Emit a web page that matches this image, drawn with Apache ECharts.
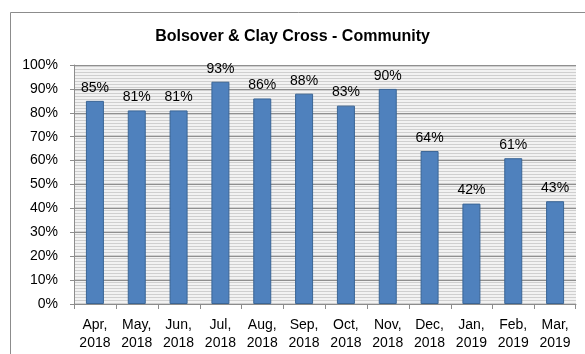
<!DOCTYPE html>
<html>
<head>
<meta charset="utf-8">
<script src="https://cdn.jsdelivr.net/npm/echarts@6/dist/echarts.min.js"></script>
<style>
  html, body { margin: 0; padding: 0; background: #ffffff; }
  #chart { width: 585px; height: 354px; }
</style>
</head>
<body>
<div id="chart"></div>
<script>
// Monthly community percentage, Apr 2018 – Mar 2019
const titleText = 'Bolsover & Clay Cross - Community';
const months = ['Apr,\n2018', 'May,\n2018', 'Jun,\n2018', 'Jul,\n2018', 'Aug,\n2018', 'Sep,\n2018',
                'Oct,\n2018', 'Nov,\n2018', 'Dec,\n2018', 'Jan,\n2019', 'Feb,\n2019', 'Mar,\n2019'];
const percentValues = [85, 81, 81, 93, 86, 88, 83, 90, 64, 42, 61, 43];
const yMin = 0, yMax = 100, yStep = 10;

const fontFamily = 'Liberation Sans, Arial, sans-serif';
const axisGray = '#8c8c8c';

// Narrow horizontal stripe fill for the plot area
function stripePattern() {
  const c = document.createElement('canvas');
  c.width = 4; c.height = 3;
  const ctx = c.getContext('2d');
  ctx.fillStyle = '#f2f2f2';
  ctx.fillRect(0, 0, 4, 3);
  ctx.fillStyle = '#cfcfcf';
  ctx.fillRect(0, 0, 4, 1);
  return { image: c, repeat: 'repeat' };
}

// Short tick marks below the category axis, at each category boundary
function renderBoundaryTicks(params, api) {
  const idx = api.value(0);
  const centre = api.coord([idx, 0]);
  const band = api.size([1, 0])[0];
  const x0 = Math.round(centre[0] - band / 2) + 0.5;
  const y = centre[1];
  const children = [{
    type: 'line',
    shape: { x1: x0, y1: y, x2: x0, y2: y + 5 },
    style: { stroke: axisGray, lineWidth: 1 }
  }];
  if (idx === months.length - 1) {
    const x1 = Math.round(centre[0] + band / 2) - 0.5;
    children.push({
      type: 'line',
      shape: { x1: x1, y1: y, x2: x1, y2: y + 5 },
      style: { stroke: axisGray, lineWidth: 1 }
    });
  }
  return { type: 'group', children };
}

const chart = echarts.init(document.getElementById('chart'), null, { renderer: 'canvas' });

chart.setOption({
  animation: false,
  backgroundColor: '#ffffff',
  graphic: [{
    type: 'rect',
    left: 8, top: 10,
    shape: { width: 600, height: 360 },
    style: { fill: 'none', stroke: axisGray, lineWidth: 1 },
    silent: true,
    z: -1
  }],
  title: {
    text: titleText,
    left: 'center',
    top: 24,
    textStyle: { fontFamily, fontSize: 16, fontWeight: 'bold', color: '#000000' }
  },
  grid: {
    left: 74, right: 9, top: 65, bottom: 50,
    show: true,
    backgroundColor: stripePattern(),
    borderWidth: 0
  },
  xAxis: {
    type: 'category',
    data: months,
    axisLine: { show: true, lineStyle: { color: axisGray, width: 1 } },
    axisTick: { show: false },
    axisLabel: {
      interval: 0, margin: 12, color: '#000000',
      fontFamily, fontSize: 14, lineHeight: 18
    },
    splitLine: { show: false },
    splitArea: { show: false }
  },
  yAxis: {
    type: 'value',
    min: yMin, max: yMax, interval: yStep,
    axisLine: { show: true, lineStyle: { color: axisGray, width: 1 } },
    axisTick: { show: true, length: 4, lineStyle: { color: axisGray } },
    axisLabel: {
      formatter: '{value}%', margin: 16, color: '#000000',
      fontFamily, fontSize: 14
    },
    splitLine: { show: true, lineStyle: { color: '#8f8f8f', width: 1 } }
  },
  series: [{
    type: 'bar',
    data: percentValues,
    barWidth: 18,
    itemStyle: { color: '#4f81bd', borderColor: '#3a6595', borderWidth: 1 },
    label: {
      show: true, position: 'top', distance: 6,
      formatter: p => p.value + '%',
      color: '#000000', fontFamily, fontSize: 14
    }
  }, {
    type: 'custom',
    silent: true,
    clip: false,
    data: months.map((m, i) => [i]),
    encode: { x: 0 },
    renderItem: renderBoundaryTicks,
    z: 5
  }]
});
</script>
</body>
</html>
